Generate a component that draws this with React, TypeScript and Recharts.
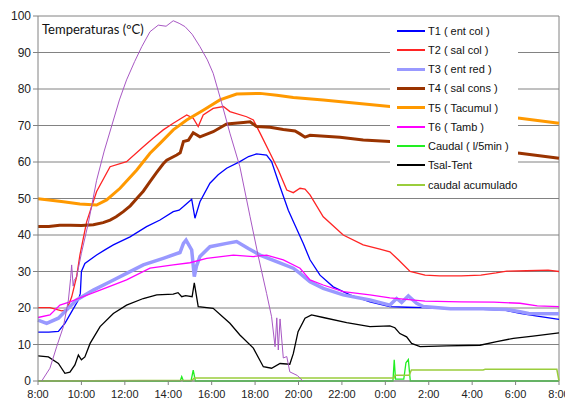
import { LineChart, Line, XAxis, YAxis, CartesianGrid, ReferenceLine } from 'recharts'

type Pt = [number, number]

// hours since 8:00 of day 1 (8 → 32), value
const hourTicks = [8, 10, 12, 14, 16, 18, 20, 22, 24, 26, 28, 30, 32]
const valueTicks = [0, 10, 20, 30, 40, 50, 60, 70, 80, 90, 100]

const t1: Pt[] = [
  [8, 13.4], [8.5, 13.4], [8.94, 13.6], [9.24, 15.8], [9.55, 19], [9.86, 22.2], [9.95, 24], [10.0, 30],
  [10.16, 32.2], [10.7, 34.5], [11.1, 36], [11.47, 37.3], [12.24, 39.5], [13.0, 42.3], [13.62, 44.1],
  [14.23, 46.4], [14.5, 46.8], [14.7, 47.8], [15.08, 49.8], [15.23, 44.6], [15.46, 49.1], [15.92, 54.2],
  [16.3, 56.5], [16.69, 58.3], [17.3, 60.1], [17.7, 61.5], [18.07, 62.2], [18.53, 61.9], [18.76, 60.1],
  [19.15, 53.2], [19.53, 46.8], [19.84, 42.7], [20.22, 37.7], [20.53, 33.2], [20.99, 29], [21.6, 25.8],
  [22.37, 23.6], [23.29, 21.7], [24.2, 20.4], [25.0, 20.2], [25.83, 20.1], [27, 19.8], [28.5, 19.6],
  [29.5, 19.4], [30.2, 18.5], [31, 17.8], [32, 16.9],
]
const t2: Pt[] = [
  [8, 20.1], [8.55, 20.1], [9.09, 19.2], [9.32, 19.5], [9.55, 23], [9.78, 28.6], [9.93, 34.5], [10.24, 43.6],
  [10.7, 51.9], [11.32, 58.7], [12.08, 60.1], [12.85, 64.2], [13.3, 66.5], [13.77, 68.8], [14.23, 70.6],
  [14.85, 72.9], [15.15, 72], [15.38, 69.7], [15.61, 72.9], [16.07, 74.7], [16.54, 75.2], [16.84, 73.8],
  [17.61, 72.4], [17.92, 71.5], [18.23, 67.9], [18.69, 62.4], [19.07, 57.8], [19.46, 52.3], [19.76, 51.6],
  [20.07, 52.8], [20.3, 52.6], [20.53, 51], [21.14, 45], [22.06, 40], [22.98, 37.3], [23.75, 36.1],
  [24.21, 35.4], [24.6, 33.2], [25.14, 30], [25.83, 29], [26.5, 28.8], [27.5, 28.8], [28.4, 29.0],
  [29.1, 29.6], [29.6, 30.1], [30.5, 30.2], [31.5, 30.4], [32, 30],
]
const t3: Pt[] = [
  [8, 16.7], [8.4, 15.8], [8.94, 17.2], [9.32, 19.5], [9.78, 22.2], [10.55, 24.9], [11.32, 27.2],
  [12.08, 29.5], [12.85, 31.8], [13.77, 33.6], [14.54, 35.2], [14.7, 37.7], [14.82, 38.6], [15.08, 35.9],
  [15.2, 28.6], [15.3, 31.5], [15.46, 34.1], [15.92, 36.8], [16.69, 37.7], [17.15, 38.2], [17.69, 36.3],
  [18.23, 34.5], [18.99, 32.7], [19.76, 30.9], [20.07, 29.5], [20.53, 27.2], [21.14, 25.4], [22.06, 23.6],
  [23.29, 22.2], [24.21, 20.8], [24.52, 22.6], [24.75, 21.5], [25.06, 23.3], [25.44, 21.3], [25.75, 20.4],
  [27, 19.8], [28.5, 19.8], [29.6, 19.6], [30.2, 19], [30.6, 18.5], [32, 18.4],
]
const t4: Pt[] = [
  [8, 42.3], [8.5, 42.3], [9, 42.7], [9.5, 42.7], [10, 42.6], [10.55, 42.8], [11.0, 43.4], [11.32, 44.1],
  [11.6, 45], [11.93, 46.4], [12.25, 48], [12.55, 50], [12.85, 52], [13.16, 54.6], [13.45, 57],
  [13.77, 59.5], [13.93, 60.5], [14.39, 61.9], [14.55, 62.5], [14.7, 65.6], [14.93, 66], [15.15, 68],
  [15.46, 66.9], [16.07, 68.3], [16.69, 70.4], [17.46, 70.8], [17.77, 71], [18.07, 69.7], [18.69, 69.5],
  [19.3, 68.9], [19.84, 68.5], [20.07, 67.7], [20.3, 66.8], [20.53, 67.3], [21.91, 66.8], [22.98, 66],
  [24.21, 65.6], [26, 64.6], [28, 63.5], [30.2, 62.4], [32, 61],
]
const t5: Pt[] = [
  [8, 49.9], [8.5, 49.6], [9.17, 49.1], [9.93, 48.5], [10.7, 48.2], [11.16, 49.6], [11.78, 52.8],
  [12.55, 57.8], [13.16, 62.4], [13.62, 65.1], [14.23, 68.8], [14.85, 71.5], [15.61, 74.2], [16.38, 77],
  [17.15, 78.6], [18.23, 78.8], [19.0, 78.3], [19.76, 77.7], [21.14, 77], [22.68, 76.1], [24.21, 75.2],
  [26, 74.2], [28, 73.1], [30.2, 72], [32, 70.6],
]
const t6: Pt[] = [
  [8, 17.4], [8.55, 18.1], [9.01, 20.8], [9.47, 21.7], [9.86, 22.6], [10.86, 24.9], [12.08, 27.7],
  [13.16, 30.9], [14.23, 31.8], [15.0, 32.4], [15.77, 33.6], [17.0, 34.5], [17.92, 34.1], [18.53, 34.5],
  [19.3, 33.2], [20.07, 30.9], [20.53, 27.7], [21.14, 26.3], [22.06, 24.5], [23.29, 23.6], [24.21, 22.8],
  [25.83, 21.9], [27.5, 21.7], [29, 21.6], [30.2, 21.3], [31, 20.6], [32, 20.4],
]
const caudal: Pt[] = [
  [8, 0], [14.55, 0], [14.62, 1.2], [14.7, 0], [15.05, 0], [15.15, 3], [15.25, 0], [24.35, 0],
  [24.41, 5.8], [24.47, 0.5], [24.85, 0.5], [24.95, 5], [25.06, 5.9], [25.15, 0], [32, 0],
]
const tsalTent: Pt[] = [
  [8, 6.9], [8.48, 6.6], [8.94, 4.8], [9.24, 2.1], [9.47, 2.4], [9.7, 4.4], [9.86, 7.1], [10.0, 5.8],
  [10.16, 6.6], [10.4, 10.3], [10.86, 14.9], [11.47, 18.5], [12.08, 20.8], [12.85, 22.6], [13.47, 23.6],
  [14.23, 23.8], [14.45, 24.2], [14.62, 23.1], [14.8, 23.4], [15.1, 23.1], [15.2, 26.9], [15.38, 20.4],
  [16.07, 19.9], [16.84, 15.8], [17.3, 12.6], [17.92, 9], [18.38, 3.9], [18.76, 3.5], [19.15, 4.8],
  [19.6, 4.6], [19.76, 7.5], [19.98, 13.5], [20.3, 17.2], [20.6, 18.1], [21.14, 17.4], [22.22, 16],
  [23.29, 14.9], [24.21, 15.1], [24.44, 14.6], [24.67, 13], [24.98, 12.1], [25.21, 10.3], [25.6, 9.4],
  [26.83, 9.6], [28.36, 9.8], [29.13, 10.8], [29.9, 11.7], [30.8, 12.3], [32, 13.2],
]
const caudalAcum: Pt[] = [
  [8, 0], [15.1, 0.2], [15.2, 0.8], [24.4, 0.8], [24.45, 1.6], [25.1, 1.6], [25.2, 3.0], [28.5, 3.0],
  [28.6, 3.2], [31.9, 3.2], [32, 0],
]
const radiacion: Pt[] = [
  [8.17, 0], [8.55, 3.5], [8.86, 9.4], [9.17, 14.9], [9.4, 22.2], [9.5, 28], [9.55, 31.8], [9.62, 26],
  [9.67, 27.6], [9.78, 28.6], [10.0, 35], [10.32, 43.3], [10.7, 55], [11.05, 63], [11.4, 70], [11.75, 77],
  [12.08, 82.5], [12.45, 87.5], [12.78, 91.6], [13.16, 95.7], [13.54, 97.5], [13.9, 97.2], [14.23, 98.7],
  [14.5, 98], [14.77, 97.1], [15.1, 95], [15.46, 91.6], [15.8, 88], [16.07, 84.3], [16.46, 76.2],
  [16.84, 67.9], [17.3, 58.7], [17.77, 45], [18.15, 34.1], [18.53, 24], [18.76, 17.6], [18.92, 9.4],
  [19.0, 17.3], [19.07, 8.5], [19.15, 17], [19.3, 6.3], [19.46, 6.7], [19.6, 2.5], [19.95, 1.5], [20.2, 0],
]

const series = [
  { name: 'T1 ( ent col )', pts: t1, color: '#0000ff', width: 1.3 },
  { name: 'T2 ( sal col )', pts: t2, color: '#ff2424', width: 1.3 },
  { name: 'T3 ( ent red )', pts: t3, color: '#9999ff', width: 3.5 },
  { name: 'T4 ( sal cons )', pts: t4, color: '#993300', width: 3 },
  { name: 'T5 ( Tacumul )', pts: t5, color: '#ff9900', width: 3 },
  { name: 'T6 ( Tamb )', pts: t6, color: '#ff00ff', width: 1.3 },
  { name: 'Caudal ( l/5min )', pts: caudal, color: '#22ee22', width: 1.3 },
  { name: 'Tsal-Tent', pts: tsalTent, color: '#000000', width: 1.3 },
  { name: 'caudal acumulado', pts: caudalAcum, color: '#9acd3c', width: 1.5 },
]

const toRows = (pts: Pt[]) => pts.map(([h, v]) => ({ h, v }))

function fmtHour(h: number) {
  return `${h % 24}:00`
}

const font = '"Liberation Sans", Arial, sans-serif'

export default function App() {
  return (
    <div style={{ position: 'absolute', left: 0, top: 0, width: 565, height: 399, background: '#fff', fontFamily: font }}>
      <LineChart width={565} height={399} margin={{ top: 16, right: 6, bottom: 0, left: 0 }}>
        <CartesianGrid vertical={false} stroke="#828282" />
        <XAxis
          type="number"
          dataKey="h"
          domain={[8, 32]}
          ticks={hourTicks}
          tickFormatter={fmtHour}
          allowDuplicatedCategory={false}
          height={18}
          tickSize={4}
          tickMargin={5}
          tick={{ fill: '#222', fontSize: 11, fontFamily: font }}
          stroke="#828282"
          interval={0}
        />
        <YAxis
          type="number"
          domain={[0, 100]}
          ticks={valueTicks}
          width={38}
          tickSize={5}
          tickMargin={2}
          tick={{ fill: '#222', fontSize: 12, fontFamily: font }}
          stroke="#828282"
          interval={0}
        />
        <ReferenceLine x={32} stroke="#828282" />
        {series.map((s) => (
          <Line
            key={s.name}
            data={toRows(s.pts)}
            dataKey="v"
            type="linear"
            stroke={s.color}
            strokeWidth={s.width}
            dot={false}
            activeDot={false}
            isAnimationActive={false}
          />
        ))}
        <Line
          data={toRows(radiacion)}
          dataKey="v"
          type="linear"
          stroke="#a858c4"
          strokeWidth={1}
          dot={false}
          activeDot={false}
          isAnimationActive={false}
        />
      </LineChart>
      <div style={{ position: 'absolute', left: 42, top: 21, fontSize: 13, color: '#111', fontFamily: 'Lato, sans-serif' }}>
        Temperaturas (ºC)
      </div>
      <div
        style={{
          position: 'absolute',
          left: 390,
          top: 17,
          width: 128,
          height: 180,
          background: '#fff',
          paddingTop: 4,
          boxSizing: 'border-box',
        }}
      >
        {series.map((s) => (
          <div key={s.name} style={{ display: 'flex', alignItems: 'center', height: 19.25 }}>
            <div style={{ marginLeft: 7, width: 28, height: s.width > 2 ? 3 : 2, background: s.color }} />
            <span style={{ marginLeft: 3, fontSize: 11, color: '#111', whiteSpace: 'nowrap' }}>{s.name}</span>
          </div>
        ))}
      </div>
    </div>
  )
}
